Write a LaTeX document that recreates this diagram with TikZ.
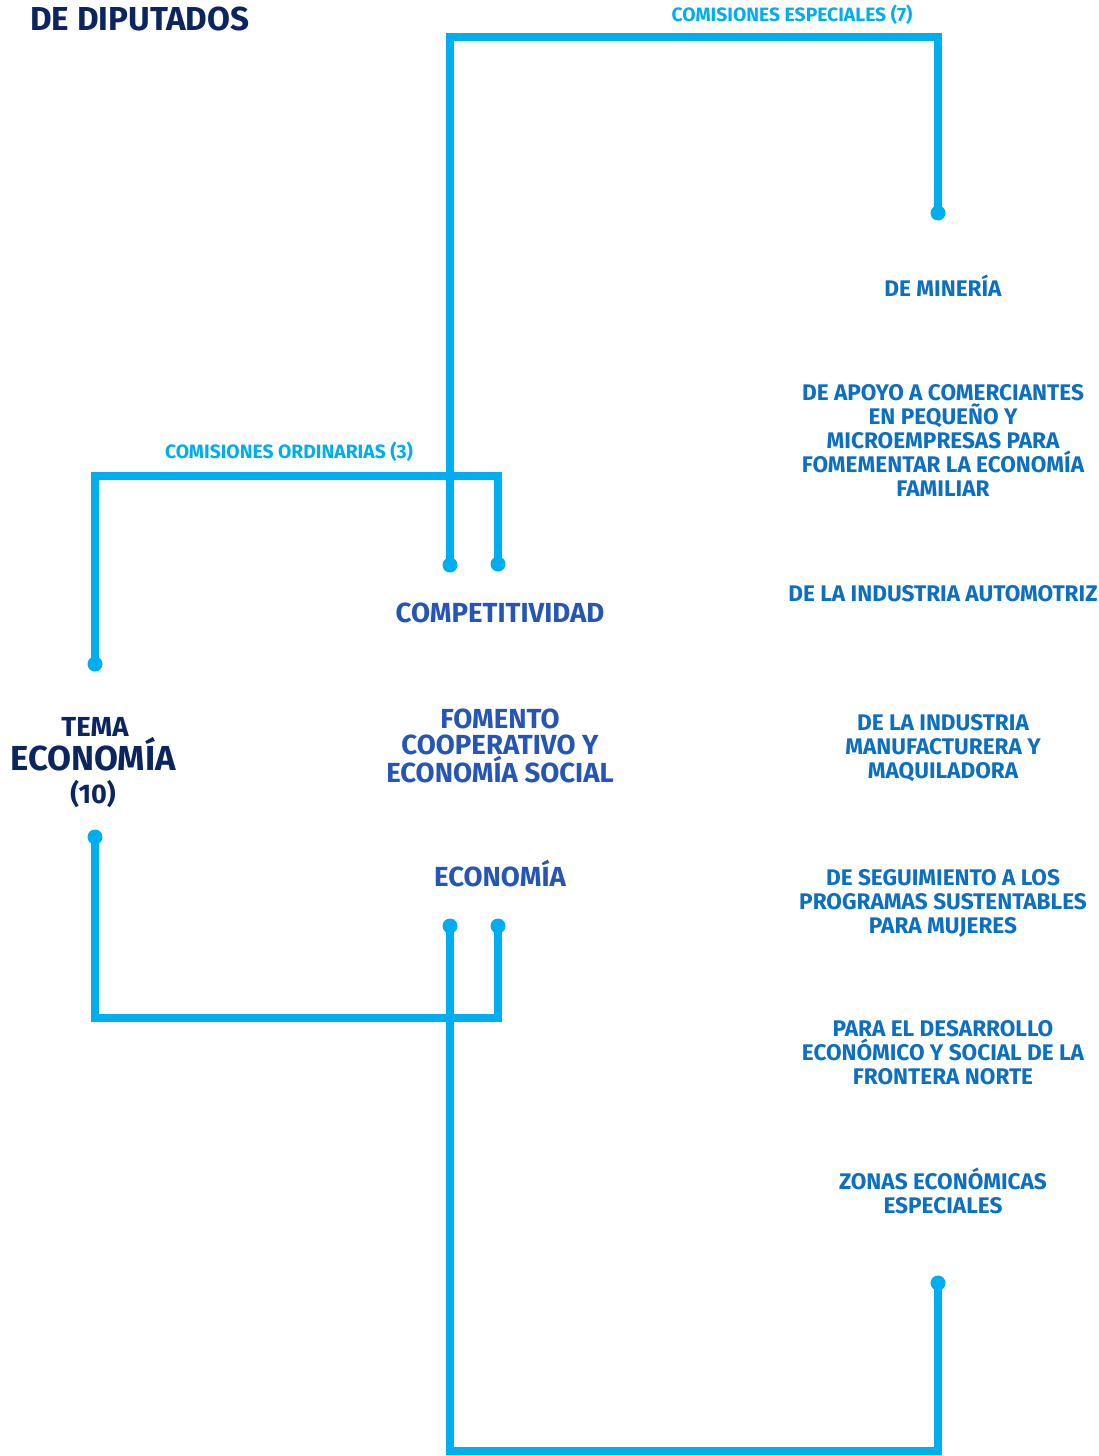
\documentclass[tikz,border=0pt]{standalone}
\usepackage{fontspec}
\setmainfont{Fira Sans}
\definecolor{lineblue}{HTML}{00AEEF}
\definecolor{navy}{HTML}{0B2560}
\definecolor{midblue}{HTML}{2556B6}
\definecolor{rightblue}{HTML}{0C6FC1}
\begin{document}
\begin{tikzpicture}[x=1pt,y=-1pt,
  conn/.style={draw=lineblue,line width=8pt,line join=miter},
  dotend/.style={fill=lineblue},
  rlabel/.style={inner sep=0pt,align=center,text=rightblue,font=\fontsize{22.6}{24}\selectfont\bfseries},
  mlabel/.style={inner sep=0pt,align=center,text=midblue,font=\fontsize{27.6}{26.5}\selectfont\bfseries},
  glabel/.style={inner sep=0pt,align=center,text=lineblue,font=\fontsize{19.3}{20}\selectfont\bfseries},
  tlabel/.style={inner sep=0pt,align=center,text=navy}]
\useasboundingbox (0,0) rectangle (1099,1456);
\fill[white] (0,0) rectangle (1099,1456);
% title
\node[tlabel,anchor=west,font=\fontsize{33.2}{34}\selectfont\bfseries] (title) at (30,19) {DE DIPUTADOS};
% group labels
\node[glabel] (lblesp) at (792,15) {COMISIONES ESPECIALES (7)};
\node[glabel] (lblord) at (289,452) {COMISIONES ORDINARIAS (3)};
% left
\node[tlabel,font=\fontsize{27.5}{28}\selectfont\bfseries] (tema) at (95,727) {TEMA};
\node[tlabel,font=\fontsize{34.7}{36}\selectfont\bfseries] (economia) at (93,754) {ECONOMÍA};
\node[tlabel,font=\fontsize{27}{28}\selectfont\bfseries] (diez) at (93,794) {(10)};
% middle
\node[mlabel] (mid1) at (500,613) {COMPETITIVIDAD};
\node[mlabel] (mid2) at (500,746) {FOMENTO\\COOPERATIVO Y\\ECONOMÍA SOCIAL};
\node[mlabel] (mid3) at (500,874) {ECONOMÍA};
% right
\node[rlabel] (r1) at (943,286) {DE MINERÍA};
\node[rlabel] (r2) at (943,440) {DE APOYO A COMERCIANTES\\EN PEQUEÑO Y\\MICROEMPRESAS PARA\\FOMEMENTAR LA ECONOMÍA\\FAMILIAR};
\node[rlabel] (r3) at (943,594) {DE LA INDUSTRIA AUTOMOTRIZ};
\node[rlabel] (r4) at (943,748) {DE LA INDUSTRIA\\MANUFACTURERA Y\\MAQUILADORA};
\node[rlabel] (r5) at (943,903) {DE SEGUIMIENTO A LOS\\PROGRAMAS SUSTENTABLES\\PARA MUJERES};
\node[rlabel] (r6) at (943,1053) {PARA EL DESARROLLO\\ECONÓMICO Y SOCIAL DE LA\\FRONTERA NORTE};
\node[rlabel] (r7) at (943,1191) {ZONAS ECONÓMICAS\\ESPECIALES};
% connector end points
\coordinate (espA) at (450,565);
\coordinate (espB) at (938,213);
\coordinate (espC) at (450,926);
\coordinate (espD) at (938,1283);
\coordinate (ordA) at (95,664);
\coordinate (ordB) at (498,564);
\coordinate (ordC) at (95,837);
\coordinate (ordD) at (498,926);
% special commissions
\draw[conn] (espA) -- (450,37) -| (espB);
\draw[conn] (espC) -- (450,1451) -| (espD);
% ordinary commissions
\draw[conn] (ordA) -- (95,476) -| (ordB);
\draw[conn] (ordC) -- (95,1018) -| (ordD);
% dots
\foreach \p in {espA,espB,espC,espD,ordA,ordB,ordC,ordD}
  \fill[dotend] (\p) circle (7.5);
\end{tikzpicture}
\end{document}
